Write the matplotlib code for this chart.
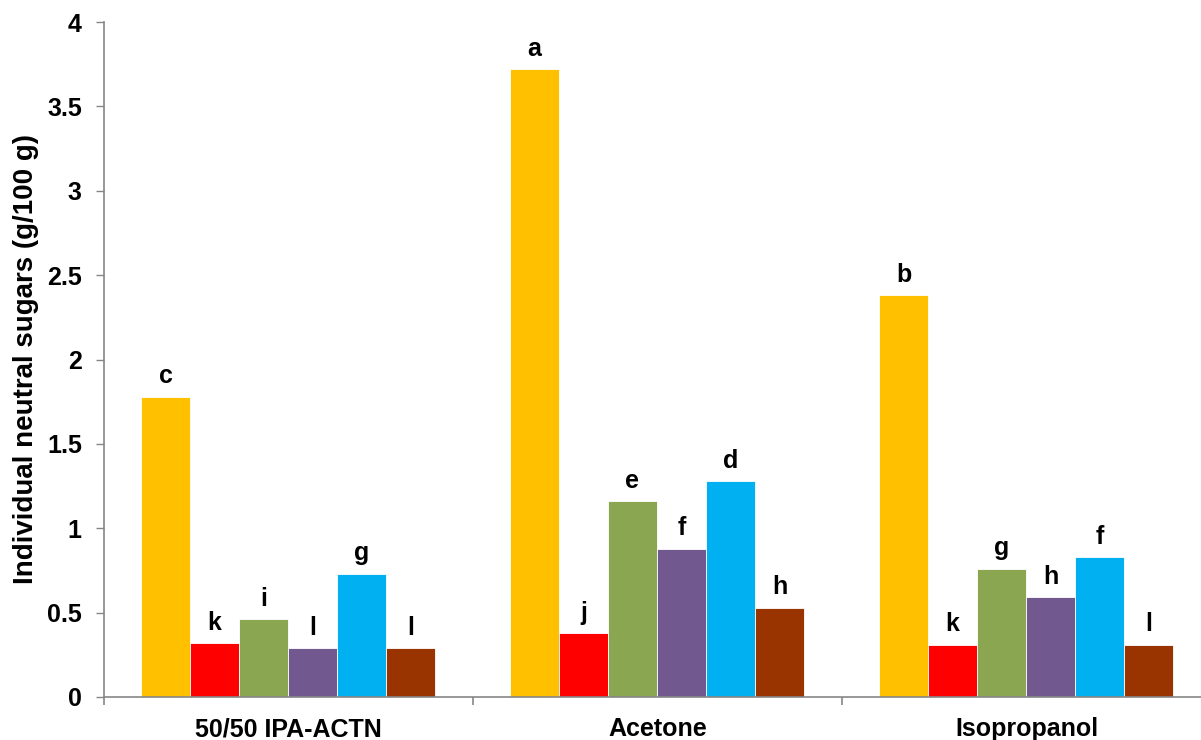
import matplotlib
matplotlib.use("Agg")
import matplotlib.pyplot as plt
import numpy as np

plt.rcParams['font.family'] = ['Liberation Sans', 'DejaVu Sans']

categories = ["50/50 IPA-ACTN", "Acetone", "Isopropanol"]
s1 = [1.78, 3.72, 2.38]
s2 = [0.32, 0.38, 0.31]
s3 = [0.46, 1.16, 0.76]
s4 = [0.29, 0.88, 0.59]
s5 = [0.73, 1.28, 0.83]
s6 = [0.29, 0.53, 0.31]
letters1 = ["c", "a", "b"]
letters2 = ["k", "j", "k"]
letters3 = ["i", "e", "g"]
letters4 = ["l", "f", "h"]
letters5 = ["g", "d", "f"]
letters6 = ["l", "h", "l"]

series = [s1, s2, s3, s4, s5, s6]
letters = [letters1, letters2, letters3, letters4, letters5, letters6]
colors = ["#FFC000", "#FF0000", "#8BA650", "#71598F", "#00B0F0", "#993300"]

fig = plt.figure(figsize=(12.01, 7.40), dpi=100)
W, H = 1201, 740
ax = fig.add_axes([104 / W, (H - 697) / H, (1201 - 104) / W, (697 - 22) / H])

GW = 369.0
bw = 49 / GW
gap = 37 / GW
x = np.arange(len(categories))
for i, (vals, labs, c) in enumerate(zip(series, letters, colors)):
    xpos = x + gap + bw * (i + 0.5)
    ax.bar(xpos, vals, width=bw, color=c, edgecolor='white', linewidth=0.6, zorder=2)
    for xp, v, l in zip(xpos, vals, labs):
        ax.annotate(l, (xp, v), xytext=(0, 6), textcoords='offset points',
                    ha='center', va='bottom', fontsize=18, fontweight='bold')

ax.set_yticks(np.arange(0, 4.01, 0.5))
ax.set_yticklabels(["0", "0.5", "1", "1.5", "2", "2.5", "3", "3.5", "4"],
                   fontsize=18, fontweight='bold')
ax.set_xticks([0, 1, 2, 3])
ax.set_xticklabels([])
ax.set_xticks(x + 0.5, minor=True)
ax.set_xticklabels(categories, minor=True, fontsize=18, fontweight='bold')
ax.set_xlim(0, 1097 / GW)
ax.set_ylim(0, 4)
ax.tick_params(axis='x', which='minor', length=0, pad=14.5)
ax.tick_params(axis='x', which='major', length=6, width=1.2, color='#868686', direction='out')
ax.tick_params(axis='y', length=6, width=1.0, color='#868686', direction='out', pad=10)

for s in ['top', 'right']:
    ax.spines[s].set_visible(False)
for s in ['left', 'bottom']:
    ax.spines[s].set_color('#868686')
    ax.spines[s].set_linewidth(1.2)

ax.set_ylabel("Individual neutral sugars (g/100 g)", fontsize=20, fontweight='bold', labelpad=6)

fig.savefig("out.png", dpi=100)
